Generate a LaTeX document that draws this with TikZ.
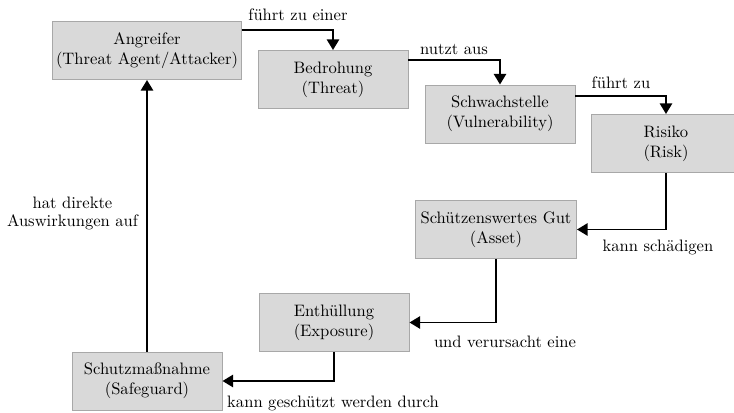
\documentclass[tikz,border=0pt]{standalone}
\usetikzlibrary{arrows.meta}
\definecolor{boxfill}{HTML}{D9D9D9}
\definecolor{boxline}{HTML}{A8A8A8}
\begin{document}
\begin{tikzpicture}[x=0.6154pt, y=-0.6154pt,
  font=\fontsize{10.2}{12.2}\selectfont,
  concept/.style={draw=boxline, fill=boxfill, line width=0.6pt, align=center,
    minimum width=92.3pt, minimum height=35.7pt, inner sep=2pt},
  flow/.style={line width=1.2pt, -{Triangle[length=6.5pt, width=7.5pt]}},
  lbl/.style={inner sep=0pt, align=center}]
  \useasboundingbox (0,0) rectangle (734,413);

  % concept boxes
  \node[concept, minimum width=115.7pt] (agent) at (147,50.5) {Angreifer\\(Threat Agent/Attacker)};
  \node[concept] (threat) at (333,79.5) {Bedrohung\\(Threat)};
  \node[concept] (vuln) at (500,114) {Schwachstelle\\(Vulnerability)};
  \node[concept] (risk) at (666,143.5) {Risiko\\(Risk)};
  \node[concept, minimum width=99.1pt] (asset) at (496,229.5) {Schützenswertes Gut\\(Asset)};
  \node[concept] (exposure) at (334,322.5) {Enthüllung\\(Exposure)};
  \node[concept] (safeguard) at (147,381) {Schutzmaßnahme\\(Safeguard)};

  % relations between the concepts
  \draw[flow] ([yshift=-5.8pt]agent.north east) -| (threat.north);
  \draw[flow] ([yshift=-6.2pt]threat.north east) -| (vuln.north);
  \draw[flow] ([yshift=-7pt]vuln.north east) -| (risk.north);
  \draw[flow] (risk.south) |- (asset.east);
  \draw[flow] (asset.south) |- (exposure.east);
  \draw[flow] (exposure.south) |- (safeguard.east);
  \draw[flow] (safeguard.north) -- (agent.south);

  % relation labels
  \node[lbl] (l1) at (298,14.5) {führt zu einer};
  \node[lbl] (l2) at (454,49) {nutzt aus};
  \node[lbl] (l3) at (621,83) {führt zu};
  \node[lbl] (l4) at (658,247.5) {kann schädigen};
  \node[lbl] (l5) at (505,342) {und verursacht eine};
  \node[lbl] (l6) at (333,403) {kann geschützt werden durch};
  \node[lbl, font=\fontsize{10.2}{10.8}\selectfont] (l7) at (72.5,213.5) {hat direkte\\Auswirkungen auf};
\end{tikzpicture}
\end{document}
